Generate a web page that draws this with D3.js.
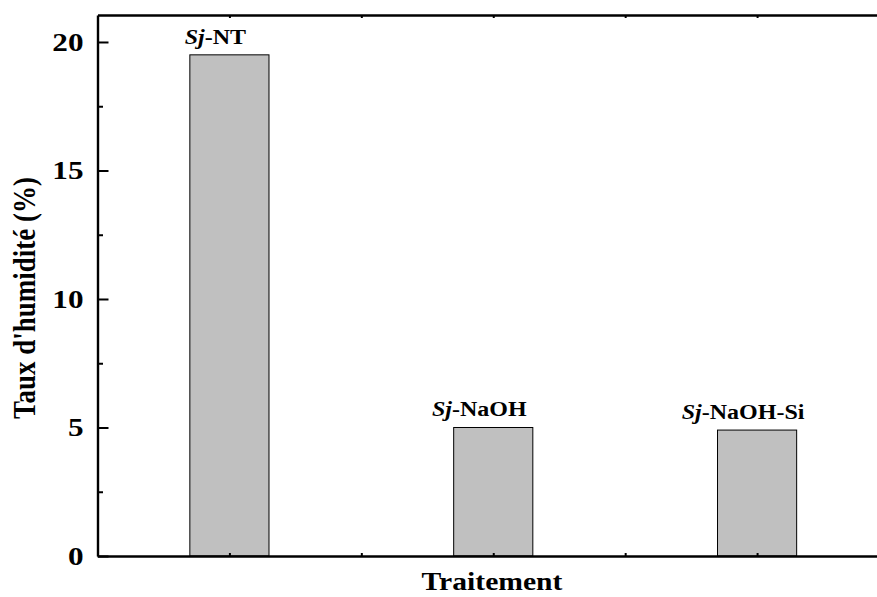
<!DOCTYPE html>
<html>
<head>
<meta charset="utf-8">
<script src="https://cdn.jsdelivr.net/npm/d3@7/dist/d3.min.js"></script>
<style>
  html, body { margin: 0; padding: 0; background: #fff; }
  svg { display: block; }
  text { font-family: "Liberation Serif", "Times New Roman", serif; font-weight: bold; fill: #000; }
</style>
</head>
<body>
<svg id="chart" width="877" height="597"></svg>
<script>
// Moisture content by treatment
const labelPrefix = ["Sj", "Sj", "Sj"];
const categories = ["-NT", "-NaOH", "-NaOH-Si"];
const moisture = [19.5, 5.0, 4.9];
const yMajorTicks = [0, 5, 10, 15, 20];
const yMinorTicks = [2.5, 7.5, 12.5, 17.5];
const xMajorTicks = [1, 2, 3];
const xMinorTicks = [1.5, 2.5];

const svg = d3.select("#chart");
const plotLeft = 97.5, plotRight = 889, plotTop = 15, plotBottom = 556;
const stretch = 1.2;   // horizontal glyph stretch of the text
const barFrac = 0.3;   // bar width in category units

const x = d3.scaleLinear().domain([0.5, 3.5]).range([plotLeft, plotRight]);
const y = d3.scaleLinear().domain([0, 21.05]).range([plotBottom, plotTop]);

// Bars
const bw = x(1 + barFrac) - x(1);
svg.append("g").selectAll("rect")
  .data(moisture)
  .join("rect")
  .attr("x", (d, i) => x(i + 1) - bw / 2)
  .attr("y", d => y(d))
  .attr("width", bw)
  .attr("height", d => y(0) - y(d))
  .attr("fill", "#c0c0c0")
  .attr("stroke", "#000")
  .attr("stroke-width", 1);

// Bar labels: italic "Sj" followed by the treatment name
const lbl = svg.append("g").selectAll("text")
  .data(moisture)
  .join("text")
  .attr("text-anchor", "middle")
  .attr("font-size", 20)
  .attr("transform", (d, i) => `translate(${x(i + 1) - 14},${y(d) - 11}) scale(${stretch},1)`);
lbl.append("tspan").attr("font-style", "italic").text((d, i) => labelPrefix[i]);
lbl.append("tspan").text((d, i) => categories[i]);

// Y axis (ticks inside)
const yAxis = svg.append("g")
  .attr("transform", `translate(${plotLeft},0)`)
  .call(d3.axisLeft(y).tickValues(yMajorTicks).tickSize(-11).tickSizeOuter(0).tickPadding(0).tickFormat(d3.format("d")));
yAxis.selectAll(".tick text")
  .attr("x", null)
  .attr("dy", "0.32em")
  .attr("font-size", 26)
  .attr("transform", `translate(-14,0) scale(${stretch},1)`);
svg.append("g")
  .attr("transform", `translate(${plotLeft},0)`)
  .call(d3.axisLeft(y).tickValues(yMinorTicks).tickSize(-5.5).tickSizeOuter(0).tickFormat(""))
  .select(".domain").remove();

// X axis (small inside ticks)
svg.append("g")
  .attr("transform", `translate(0,${plotBottom})`)
  .call(d3.axisBottom(x).tickValues(xMajorTicks.concat(xMinorTicks)).tickSize(-3).tickSizeOuter(0).tickFormat(""));

// Top frame line with matching ticks
svg.append("g")
  .attr("transform", `translate(0,${plotTop})`)
  .call(d3.axisTop(x).tickValues(xMajorTicks.concat(xMinorTicks)).tickSize(-3).tickSizeOuter(0).tickFormat(""));

svg.selectAll("g").attr("font-family", null);
svg.selectAll(".domain").attr("stroke", "#000").attr("stroke-width", 2.3);
svg.selectAll(".tick line").attr("stroke", "#000").attr("stroke-width", 2);
yAxis.select(".domain").attr("stroke-width", 2.4);

// Axis titles
svg.append("text")
  .attr("text-anchor", "middle")
  .attr("font-size", 26)
  .attr("transform", `translate(492,590) scale(1.14,1)`)
  .text("Traitement");

svg.append("text")
  .attr("text-anchor", "middle")
  .attr("font-size", 27)
  .attr("transform", `translate(35,298) rotate(-90) scale(1,${stretch})`)
  .text("Taux d'humidité (%)");
</script>
</body>
</html>
